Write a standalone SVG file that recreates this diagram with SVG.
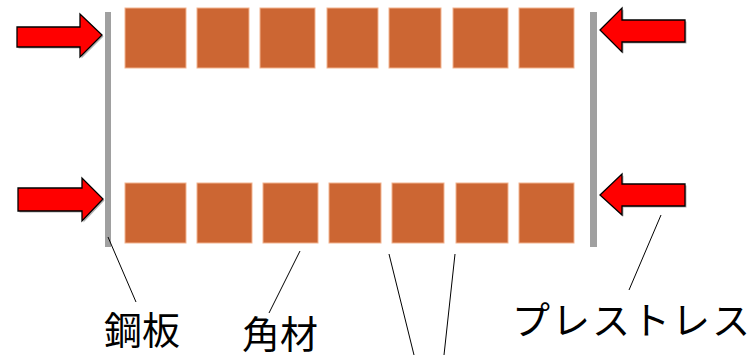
<svg xmlns="http://www.w3.org/2000/svg" width="756" height="355" viewBox="0 0 756 355">
<style>
.blk{fill:#cc6633;stroke:#f2b38f;stroke-width:1}
.plate{fill:#a0a0a0}
.arr{fill:#ff0000;stroke:#000;stroke-width:1.3;stroke-linejoin:miter}
.sh{fill:#b0b0b0}
.ld{stroke:#000;stroke-width:1;fill:none}
.lbl{font-family:"Noto Sans CJK JP","Noto Sans",sans-serif;font-size:38px;fill:#000}
</style>
<rect width="756" height="355" fill="#fff"/>
<g id="plate-left"><rect class="plate" x="105" y="12" width="6" height="235"/></g>
<g id="plate-right"><rect class="plate" x="590" y="12" width="7" height="235"/></g>
<g id="blocks-top">
<rect class="blk" x="125" y="8" width="61" height="60"/>
<rect class="blk" x="197" y="8" width="52" height="60"/>
<rect class="blk" x="260" y="8" width="55" height="60"/>
<rect class="blk" x="327" y="8" width="51" height="60"/>
<rect class="blk" x="389" y="8" width="52" height="60"/>
<rect class="blk" x="453" y="8" width="55" height="60"/>
<rect class="blk" x="519" y="8" width="55" height="60"/>
</g>
<g id="blocks-bottom">
<rect class="blk" x="125" y="183" width="61" height="60"/>
<rect class="blk" x="197" y="183" width="55" height="60"/>
<rect class="blk" x="263" y="183" width="55" height="60"/>
<rect class="blk" x="329" y="183" width="52" height="60"/>
<rect class="blk" x="392" y="183" width="52" height="60"/>
<rect class="blk" x="456" y="183" width="52" height="60"/>
<rect class="blk" x="519" y="183" width="55" height="60"/>
</g>
<g id="arrow-tl">
<polygon class="sh" points="18.5,28.5 81.5,28.5 81.5,15.5 103.5,36.5 81.5,58.5 81.5,48.5 18.5,48.5"/>
<polygon class="arr" points="17,27 80,27 80,14 102,35 80,57 80,47 17,47"/>
</g>
<g id="arrow-bl">
<polygon class="sh" points="19.5,189.5 83.5,189.5 83.5,179.5 104.5,200.5 83.5,222.5 83.5,212.5 19.5,212.5"/>
<polygon class="arr" points="18,188 82,188 82,178 103,199 82,221 82,211 18,211"/>
</g>
<g id="arrow-tr">
<polygon class="sh" points="601.5,31.5 623.5,9.5 623.5,21.5 686.5,21.5 686.5,43.5 623.5,43.5 623.5,53.5"/>
<polygon class="arr" points="600,30 622,8 622,20 685,20 685,42 622,42 622,52"/>
</g>
<g id="arrow-br">
<polygon class="sh" points="601.5,196.5 623.5,175.5 623.5,185.5 686.5,185.5 686.5,207.5 623.5,207.5 623.5,216.5"/>
<polygon class="arr" points="600,195 622,174 622,184 685,184 685,206 622,206 622,215"/>
</g>
<g id="connectors">
<line class="ld" x1="108" y1="237" x2="136" y2="302"/>
<line class="ld" x1="300" y1="251" x2="269" y2="313"/>
<line class="ld" x1="389" y1="254" x2="414" y2="355"/>
<line class="ld" x1="455" y1="254" x2="444" y2="355"/>
<line class="ld" x1="661" y1="215" x2="629" y2="290"/>
</g>
<g id="label-steel"><text class="lbl" x="104" y="344">鋼板</text></g>
<g id="label-timber"><text class="lbl" x="242" y="348">角材</text></g>
<g id="label-prestress"><text class="lbl" x="512" y="334" textLength="238">プレストレス</text></g>
</svg>
